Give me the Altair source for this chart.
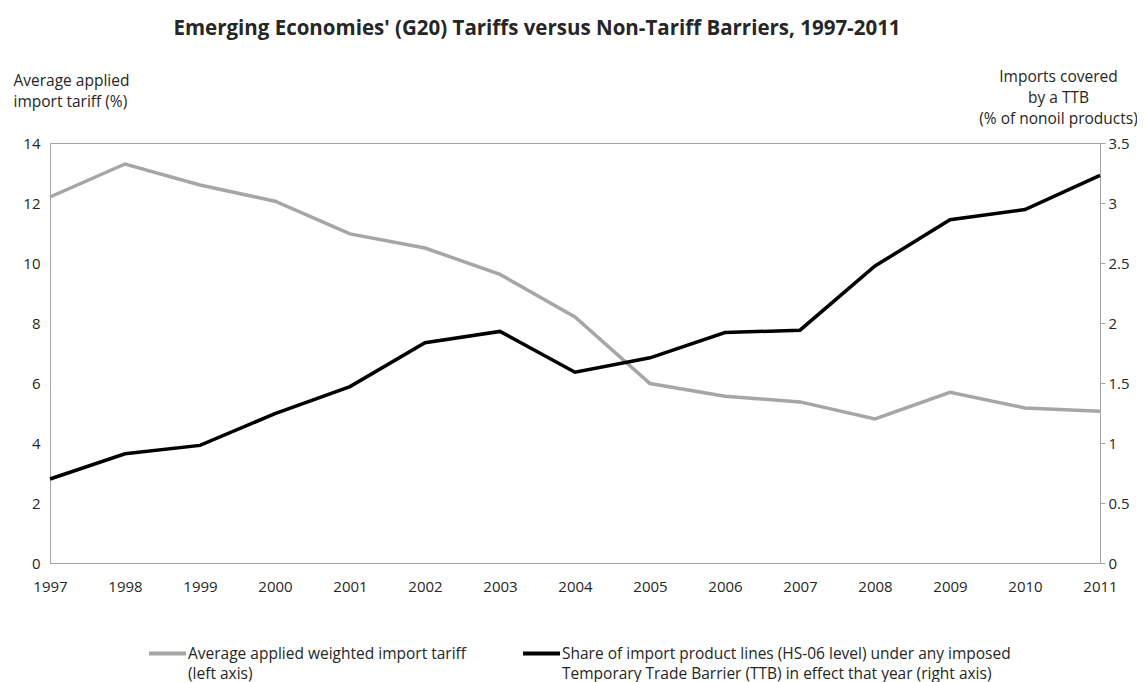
import altair as alt
import pandas as pd

years = [1997, 1998, 1999, 2000, 2001, 2002, 2003, 2004, 2005, 2006, 2007, 2008, 2009, 2010, 2011]
tariff = [12.2, 13.3, 12.6, 12.06, 10.97, 10.5, 9.62, 8.2, 5.98, 5.56, 5.37, 4.8, 5.69, 5.17, 5.06]
ttb = [0.70, 0.91, 0.98, 1.245, 1.47, 1.835, 1.93, 1.59, 1.71, 1.92, 1.94, 2.475, 2.86, 2.945, 3.23]
series_names = [
    "Average applied weighted import tariff|(left axis)",
    "Share of import product lines (HS-06 level) under any imposed|Temporary Trade Barrier (TTB) in effect that year (right axis)",
]
colors = ["#a6a6a6", "#000000"]
left_ticks = [0, 2, 4, 6, 8, 10, 12, 14]
right_ticks = [0, 0.5, 1, 1.5, 2, 2.5, 3, 3.5]
chart_title = "Emerging Economies' (G20) Tariffs versus Non-Tariff Barriers, 1997-2011"
left_title = ["Average applied", "import tariff (%)"]
right_title = ["Imports covered", "by a TTB", "(% of nonoil products)"]

FONT = "Open Sans"
AXIS_GRAY = "#a6a6a6"
TEXT = "#262626"

df_t = pd.DataFrame({"year": years, "value": tariff, "series": series_names[0]})
df_b = pd.DataFrame({"year": years, "value": ttb, "series": series_names[1]})

x_enc = alt.X(
    "year:Q",
    scale=alt.Scale(domain=[years[0], years[-1]], nice=False, zero=False),
    axis=alt.Axis(values=years, format="d", title=None, grid=False, ticks=False, tickSize=0,
                  labelPadding=16, labelFontSize=15, labelFont=FONT, labelColor=TEXT,
                  domainColor=AXIS_GRAY, labelFlush=False),
)

color_enc = alt.Color(
    "series:N",
    scale=alt.Scale(domain=series_names, range=colors),
    legend=alt.Legend(title=None, orient="none", legendX=97, legendY=490,
                      direction="horizontal", columns=2, columnPadding=48,
                      symbolType="stroke", symbolSize=1369, symbolStrokeWidth=4,
                      labelLimit=700, labelFontSize=15.5, labelFont=FONT, labelColor=TEXT,
                      labelOffset=0, labelExpr="split(datum.label, '|')"),
)

left = alt.Chart(df_t).mark_line(strokeWidth=3.5).encode(
    x=x_enc,
    y=alt.Y("value:Q", scale=alt.Scale(domain=[0, 14], nice=False),
            axis=alt.Axis(orient="left", values=left_ticks, title=left_title, titleAngle=0,
                          titleAlign="left", titleBaseline="middle", titleX=-37, titleY=-63,
                          titleFontSize=15.5, titleFontWeight="normal", titleFont=FONT,
                          titleColor=TEXT, titleLineHeight=21, ticks=False, tickSize=0,
                          labelPadding=10, labelFontSize=15, labelFont=FONT, labelColor=TEXT,
                          grid=False, domainColor=AXIS_GRAY)),
    color=color_enc,
)

right = alt.Chart(df_b).mark_line(strokeWidth=3.5).encode(
    x=x_enc,
    y=alt.Y("value:Q", scale=alt.Scale(domain=[0, 3.5], nice=False),
            axis=alt.Axis(orient="right", values=right_ticks, format="~g", title=right_title,
                          titleAngle=0, titleAlign="center", titleBaseline="middle",
                          titleX=-42, titleY=-67,
                          titleFontSize=15.5, titleFontWeight="normal", titleFont=FONT,
                          titleColor=TEXT, titleLineHeight=21, ticks=True, tickSize=5,
                          tickColor=AXIS_GRAY, labelPadding=3, labelFontSize=15, labelFont=FONT,
                          labelColor=TEXT, grid=False, domainColor=AXIS_GRAY)),
    color=color_enc,
)

chart = alt.layer(left, right).resolve_scale(y="independent").properties(
    width=1050,
    height=420,
    autosize="none",
    padding={"left": 42, "top": 135, "right": 37, "bottom": 119},
    title=alt.TitleParams(text=chart_title, font=FONT, fontSize=20.5, fontWeight="bold",
                          color=TEXT, frame="group", anchor="middle", offset=30, dx=-38),
).configure(
    style={"guide-label": {"lineHeight": 20}},
    view=alt.ViewConfig(stroke=AXIS_GRAY, strokeWidth=1),
)

chart.save("out.html", embed_options={"renderer": "svg", "actions": False})
